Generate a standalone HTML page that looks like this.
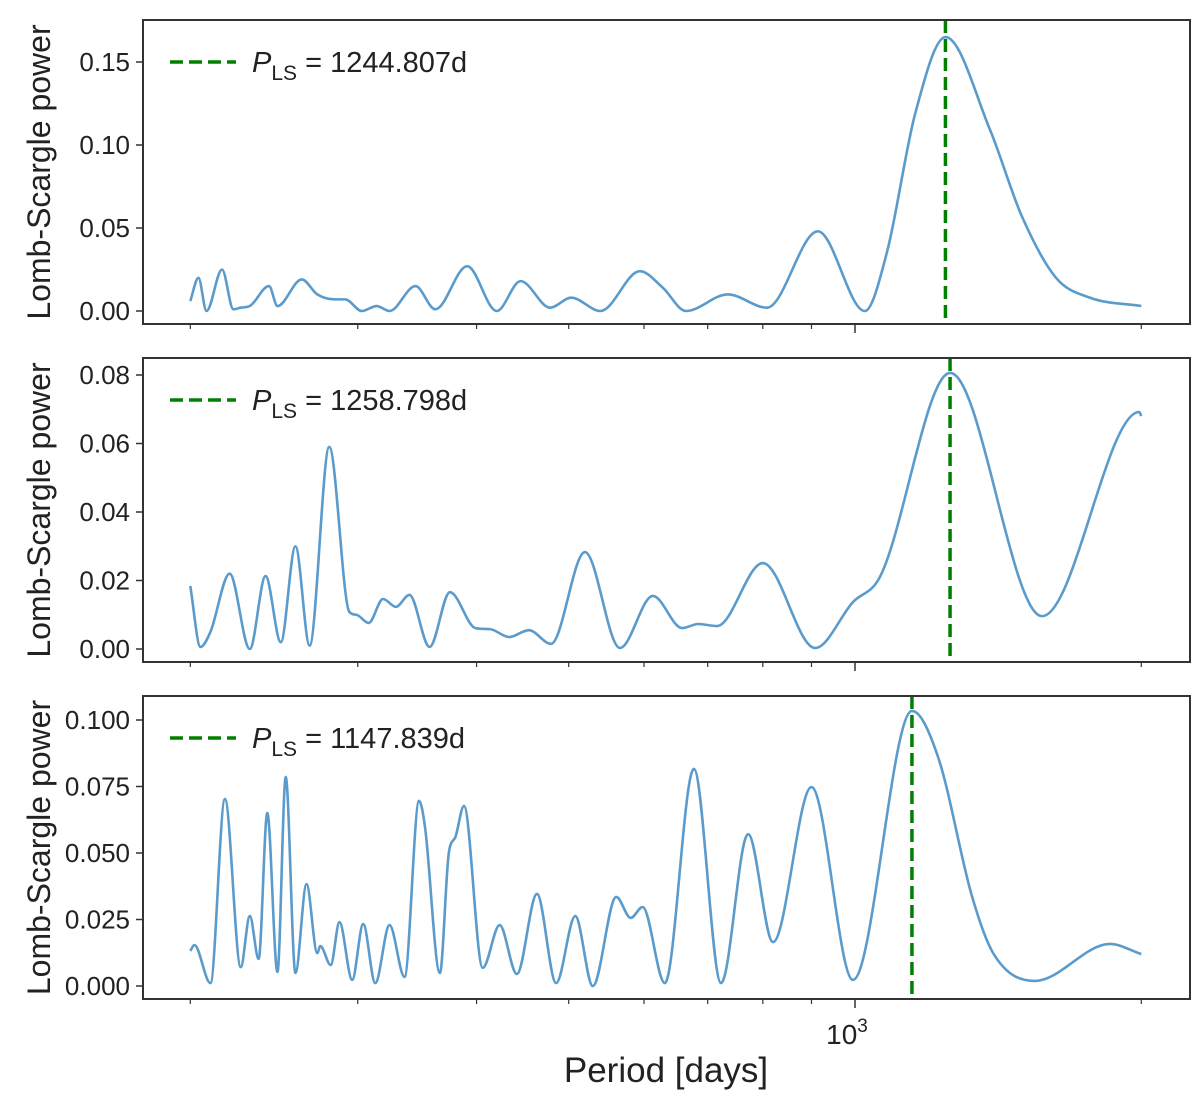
<!DOCTYPE html>
<html><head><meta charset="utf-8"><style>
body{margin:0;background:#fff}
svg text{font-family:"Liberation Sans",sans-serif;fill:#222}
</style></head><body>
<svg id="chart" width="1200" height="1100" xmlns="http://www.w3.org/2000/svg"></svg>
<script>
// ---- data ----
const p1Period=[200,204,208,216,222,226,231,242,247,262,272,284,291,303,314,324,345,362,391,420,445,478,503,540,594,628,664,735,808,914,1024,1080,1157,1245,1387,1498,1627,1767,2000];
const p1Power=[0.006,0.020,0.000,0.025,0.001,0.002,0.003,0.015,0.003,0.019,0.010,0.007,0.007,0.000,0.003,0.000,0.015,0.001,0.027,0.000,0.018,0.002,0.008,0.000,0.024,0.014,0.000,0.010,0.002,0.048,0.000,0.035,0.119,0.165,0.109,0.057,0.020,0.008,0.003];
const p2Period=[200,205,210,220,231,240,249,258,267,280,294,299,308,319,329,340,357,375,399,413,433,454,479,520,566,613,658,684,716,800,908,995,1062,1259,1573,1990,2000];
const p2Power=[0.0184,0.0006,0.005,0.022,0.000,0.0213,0.002,0.030,0.001,0.059,0.0108,0.010,0.0076,0.0146,0.0123,0.0158,0.0006,0.0166,0.0061,0.0058,0.0035,0.0055,0.0015,0.0283,0.0003,0.0155,0.0061,0.0073,0.0067,0.0251,0.0003,0.0137,0.021,0.0806,0.0096,0.0692,0.068];
const p3Period=[200,202,210,217.5,226,231,236,241,247,252,258,265,272,274,281,287,296,304,313,324,336,348,353,366,374,380,388,406,423,441,463,485,508,530,561,581,598,631,677,723,772,820,900,995,1148,1223,1328,1397,1546,1854,2000];
const p3Power=[0.0132,0.0154,0.0011,0.0703,0.0071,0.0263,0.0102,0.065,0.0053,0.0786,0.0049,0.0383,0.0124,0.015,0.0079,0.024,0.0023,0.0233,0.0011,0.0229,0.0034,0.0696,0.060,0.0049,0.050,0.056,0.0677,0.0068,0.0229,0.0045,0.0346,0.0011,0.0263,0.000,0.0335,0.0256,0.0297,0.0011,0.0816,0.0011,0.0571,0.0165,0.0748,0.0023,0.1034,0.086,0.0335,0.0124,0.0019,0.0158,0.012];
const bestPeriods=[1244.807,1258.798,1147.839];
const bestLabels=["1244.807d","1258.798d","1147.839d"];
const yTicks1=[0,0.05,0.10,0.15];
const yTickLabels1=["0.00","0.05","0.10","0.15"];
const yTicks2=[0,0.02,0.04,0.06,0.08];
const yTickLabels2=["0.00","0.02","0.04","0.06","0.08"];
const yTicks3=[0,0.025,0.05,0.075,0.1];
const yTickLabels3=["0.000","0.025","0.050","0.075","0.100"];
const minorTicks=[200,300,400,500,600,700,800,900,2000];
const majorTicks=[1000];

// ---- layout ----
const NS="http://www.w3.org/2000/svg";
const svg=document.getElementById('chart');
const L=143,R=1190;
const xs=p=>855+951*Math.log10(p/1000);
const panels=[
 {top:20,bot:324,y0:311,yPer:83/0.05,per:p1Period,pow:p1Power,yt:yTicks1,ytl:yTickLabels1},
 {top:358,bot:662,y0:649,yPer:68.5/0.02,per:p2Period,pow:p2Power,yt:yTicks2,ytl:yTickLabels2},
 {top:696,bot:999,y0:986,yPer:66.5/0.025,per:p3Period,pow:p3Power,yt:yTicks3,ytl:yTickLabels3}
];
function mk(tag,attrs,parent){const e=document.createElementNS(NS,tag);for(const k in attrs)e.setAttribute(k,attrs[k]);(parent||svg).appendChild(e);return e;}
function monotonePath(pts){
 const n=pts.length;const d=[],m=[];
 for(let i=0;i<n-1;i++){d.push((pts[i+1][1]-pts[i][1])/(pts[i+1][0]-pts[i][0]));}
 for(let i=0;i<n;i++){
  if(i==0)m.push(d[0]);else if(i==n-1)m.push(d[n-2]);
  else m.push(d[i-1]*d[i]<=0?0:(d[i-1]+d[i])/2);
 }
 for(let i=0;i<n-1;i++){if(d[i]==0){m[i]=0;m[i+1]=0;continue;}const a=m[i]/d[i],b=m[i+1]/d[i];const s=a*a+b*b;if(s>9){const t=3/Math.sqrt(s);m[i]=t*a*d[i];m[i+1]=t*b*d[i];}}
 let s=`M${pts[0][0]},${pts[0][1]}`;
 for(let i=0;i<n-1;i++){const h=(pts[i+1][0]-pts[i][0])/3;
  s+=` C${pts[i][0]+h},${pts[i][1]+m[i]*h} ${pts[i+1][0]-h},${pts[i+1][1]-m[i+1]*h} ${pts[i+1][0]},${pts[i+1][1]}`;}
 return s;
}
panels.forEach((P,i)=>{
 const g=mk('g',{});
 
 
 const ys=v=>P.y0-v*P.yPer;
 P.yt.forEach((v,j)=>{
  const t=mk('line',{x1:L-7,x2:L,y1:ys(v),y2:ys(v),stroke:'#333','stroke-width':1.5},g);
  
  const tx=mk('text',{x:L-13,y:ys(v)+9,'text-anchor':'end','font-size':26},g);tx.textContent=P.ytl[j];
  
 });
 minorTicks.forEach(p=>{const t=mk('line',{x1:xs(p),x2:xs(p),y1:P.bot,y2:P.bot+5,stroke:'#333','stroke-width':1.2},g);
  });
 majorTicks.forEach(p=>{const t=mk('line',{x1:xs(p),x2:xs(p),y1:P.bot,y2:P.bot+9,stroke:'#333','stroke-width':1.5},g);
  });
 const pts=P.per.map((p,k)=>[xs(p),ys(P.pow[k])]);
 const c=mk('path',{d:monotonePath(pts),fill:'none',stroke:'#5b9bcc','stroke-width':2.6,'stroke-linejoin':'round'},g);
 
 const bx=xs(bestPeriods[i]);
 const vl=mk('line',{x1:bx,x2:bx,y1:P.top,y2:P.bot,stroke:'#008000','stroke-width':3.5,'stroke-dasharray':'13,6'},g);
 
 const fr=mk('rect',{x:L,y:P.top,width:R-L,height:P.bot-P.top,fill:'none',stroke:'#333','stroke-width':2},g);
 
 const lg=mk('g',{},g);
 
 const ly=P.top+42;
 mk('line',{x1:170,x2:236,y1:ly,y2:ly,stroke:'#008000','stroke-width':3.5,'stroke-dasharray':'13,6'},lg);
 const lt=mk('text',{x:252,y:ly+10,'font-size':29},lg);
 lt.innerHTML='<tspan font-style="italic">P</tspan><tspan font-size="21" dy="8">LS</tspan><tspan dy="-8"> = '+bestLabels[i]+'</tspan>';
 const cy=(P.top+P.bot)/2;
 const yl=mk('text',{x:0,y:0,'font-size':32,'text-anchor':'middle',transform:`translate(50,${cy}) rotate(-90)`},g);
 yl.textContent='Lomb-Scargle power';
 
});
const xt=mk('text',{x:xs(1000)-8,y:1044,'font-size':28,'text-anchor':'middle'});
xt.innerHTML='10<tspan font-size="19" dy="-12">3</tspan>';

const xl=mk('text',{x:666,y:1082,'font-size':35,'text-anchor':'middle'});
xl.textContent='Period [days]';

</script>
</body></html>
